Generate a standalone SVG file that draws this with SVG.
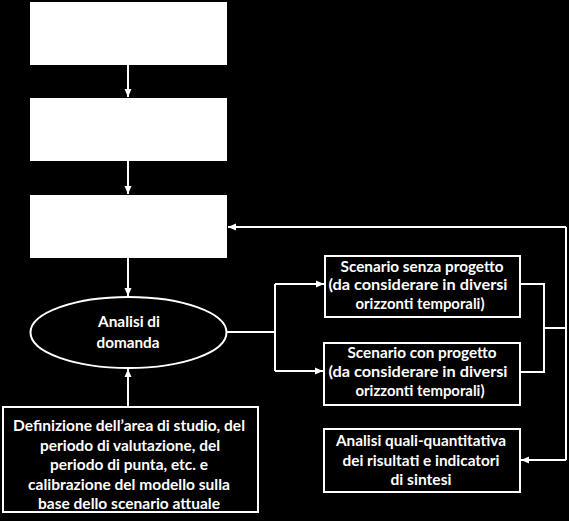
<svg xmlns="http://www.w3.org/2000/svg" width="569" height="521" viewBox="0 0 569 521">
<style>
.bg{fill:#000}
.wbox{fill:#fff;stroke:none}
.box{fill:#000;stroke:#fff;stroke-width:2}
.ln{fill:none;stroke:#fff;stroke-width:2}
text{font-family:Lato,"Liberation Sans",sans-serif;font-weight:bold;font-size:16px;fill:#fff;text-anchor:middle}
</style>
<defs>
<marker id="ah" markerWidth="9" markerHeight="8" refX="8" refY="4" orient="auto" markerUnits="userSpaceOnUse">
<path d="M0,0.5 L8,4 L0,7.5 z" fill="#fff"/>
</marker>
</defs>
<rect class="bg" x="0" y="0" width="569" height="521"/>
<g id="connectors">
<line class="ln" x1="128" y1="65" x2="128" y2="97" marker-end="url(#ah)"/>
<line class="ln" x1="128" y1="161" x2="128" y2="194" marker-end="url(#ah)"/>
<line class="ln" x1="128" y1="258" x2="128" y2="296" marker-end="url(#ah)"/>
<line class="ln" x1="128" y1="407" x2="128" y2="369" marker-end="url(#ah)"/>
<polyline class="ln" points="227,332 275,332"/>
<polyline class="ln" points="275,284 275,371"/>
<line class="ln" x1="275" y1="284" x2="324" y2="284" marker-end="url(#ah)"/>
<line class="ln" x1="275" y1="371" x2="323" y2="371" marker-end="url(#ah)"/>
<polyline class="ln" points="521,284 544,284 544,372 521,372"/>
<polyline class="ln" points="544,328 566,328"/>
<polyline class="ln" points="566,227 566,460"/>
<line class="ln" x1="566" y1="227" x2="228" y2="227" marker-end="url(#ah)"/>
<line class="ln" x1="566" y1="460" x2="521" y2="460" marker-end="url(#ah)"/>
</g>
<g id="box1"><rect class="wbox" x="30" y="2" width="197" height="63"/></g>
<g id="box2"><rect class="wbox" x="30" y="98" width="197" height="63"/></g>
<g id="box3"><rect class="wbox" x="30" y="195" width="197" height="63"/></g>
<g id="analisi-domanda">
<ellipse class="box" cx="128.5" cy="332.5" rx="98" ry="35.5"/>
<text x="129" y="327" textLength="62" lengthAdjust="spacingAndGlyphs">Analisi di</text>
<text x="128" y="348" textLength="63" lengthAdjust="spacingAndGlyphs">domanda</text>
</g>
<g id="definizione">
<rect class="box" x="3" y="407" width="255" height="105"/>
<text x="129" y="431" textLength="232" lengthAdjust="spacingAndGlyphs">Definizione dell’area di studio, del</text>
<text x="130" y="451" textLength="180" lengthAdjust="spacingAndGlyphs">periodo di valutazione, del</text>
<text x="129" y="470" textLength="158" lengthAdjust="spacingAndGlyphs">periodo di punta, etc. e</text>
<text x="129" y="490" textLength="202" lengthAdjust="spacingAndGlyphs">calibrazione del modello sulla</text>
<text x="129" y="509" textLength="182" lengthAdjust="spacingAndGlyphs">base dello scenario attuale</text>
</g>
<g id="scenario-senza">
<rect class="box" x="325" y="256" width="195" height="61"/>
<text x="422" y="272" textLength="163" lengthAdjust="spacingAndGlyphs">Scenario senza progetto</text>
<text x="418" y="290" textLength="179" lengthAdjust="spacingAndGlyphs">(da considerare in diversi</text>
<text x="420" y="309" textLength="129" lengthAdjust="spacingAndGlyphs">orizzonti temporali)</text>
</g>
<g id="scenario-con">
<rect class="box" x="324" y="343" width="196" height="62"/>
<text x="422" y="358" textLength="149" lengthAdjust="spacingAndGlyphs">Scenario con progetto</text>
<text x="418" y="377" textLength="179" lengthAdjust="spacingAndGlyphs">(da considerare in diversi</text>
<text x="420" y="396" textLength="129" lengthAdjust="spacingAndGlyphs">orizzonti temporali)</text>
</g>
<g id="analisi-quali">
<rect class="box" x="324" y="429" width="196" height="63"/>
<text x="421" y="446" textLength="170" lengthAdjust="spacingAndGlyphs">Analisi quali-quantitativa</text>
<text x="421" y="466" textLength="157" lengthAdjust="spacingAndGlyphs">dei risultati e indicatori</text>
<text x="421" y="485" textLength="61" lengthAdjust="spacingAndGlyphs">di sintesi</text>
</g>
</svg>
